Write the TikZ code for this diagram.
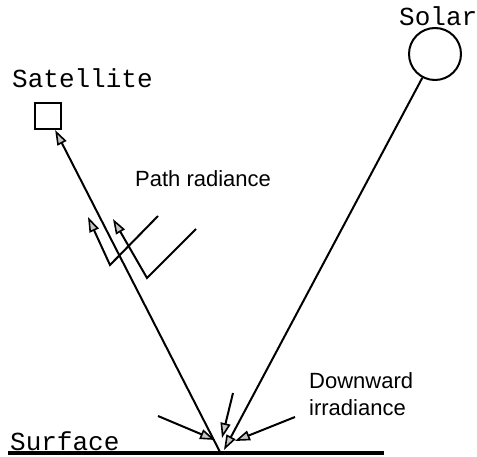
\documentclass[tikz,border=0pt]{standalone}
\usepackage{fontspec}
\setmainfont{Liberation Sans}
\newfontfamily\cour{Liberation Mono}
\usetikzlibrary{arrows.meta}
\begin{document}
\begin{tikzpicture}[x=1pt,y=-1pt,
  ray/.style={line width=2pt, line join=miter},
  arr/.style={ray, -{Triangle[length=15pt,width=10pt,fill=gray!45,line width=1.6pt]}},
  monolabel/.style={inner sep=0pt, anchor=base west, font=\cour\fontsize{26}{28}\selectfont},
  sanslabel/.style={inner sep=0pt, anchor=base west, font=\fontsize{22}{27}\selectfont, align=left}]
\useasboundingbox (0,0) rectangle (477,457);
% objects
\node[draw, line width=2pt, minimum size=26pt, inner sep=0pt] (sat) at (48,116) {};
\node[draw, line width=2pt, circle, minimum size=52pt, inner sep=0pt] (sun) at (435,54) {};
% labels
\node[monolabel] (satlab) at (12,88) {Satellite};
\node[monolabel] (sollab) at (399,26) {Solar};
\node[monolabel] (surflab) at (10,450) {Surface};
\node[sanslabel] (pathlab) at (135,187) {Path radiance};
\node[sanslabel] (downlab) at (309,415) {Downward\\irradiance};
% surface
\coordinate (sl) at (8,453);
\coordinate (sr) at (384,453);
\draw[line width=3.5pt] (sl) -- (sr);
% main rays
\coordinate (p) at (220,452);
\coordinate (q) at (224,450);
\draw[arr] (p) -- (sat);
\draw[arr] (sun) -- (q);
% path radiance
\coordinate (r1s) at (158,216);
\coordinate (r1c) at (110,265);
\coordinate (r1t) at (88,217);
\coordinate (r2s) at (196,229);
\coordinate (r2c) at (147,278);
\coordinate (r2t) at (113,219);
\draw[arr] (r1s) -- (r1c) -- (r1t);
\draw[arr] (r2s) -- (r2c) -- (r2t);
% downward irradiance
\coordinate (d1s) at (233,393);
\coordinate (d1t) at (222,438);
\coordinate (d2s) at (158,416);
\coordinate (d2t) at (215,440);
\coordinate (d3s) at (295,417);
\coordinate (d3t) at (235,441);
\draw[arr] (d1s) -- (d1t);
\draw[arr] (d2s) -- (d2t);
\draw[arr] (d3s) -- (d3t);
\end{tikzpicture}
\end{document}
